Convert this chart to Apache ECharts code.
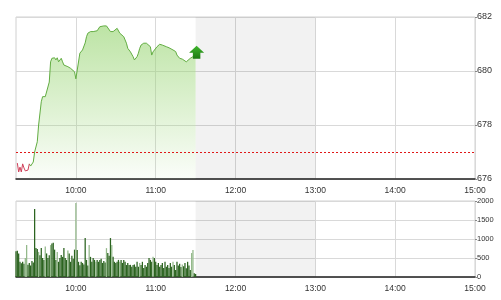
<!DOCTYPE html>
<html><head><meta charset="utf-8">
<script src="https://cdn.jsdelivr.net/npm/echarts@6/dist/echarts.min.js"></script>
<style>html,body{margin:0;padding:0;background:#fff}#c{width:501px;height:300px}</style>
</head><body><div id="c"></div>
<script>
// ---- data ----
const hourLabels = ['10:00','11:00','12:00','13:00','14:00','15:00'];
const refPrice = 677;
const lunchStart = '11:30', lunchEnd = '13:00';
const lastTime = '11:30';

const redTimes  = ['09:16','09:17','09:18','09:19','09:20','09:21','09:22','09:23','09:24','09:25'];
const redValues = [676.59,676.26,676.44,676.26,676.56,676.41,676.30,676.26,676.33,676.56];

const priceTimes = ['09:25','09:26','09:28','09:29','09:31','09:32','09:34','09:35','09:36','09:37','09:38','09:40','09:41','09:42','09:44','09:45','09:46','09:47','09:49','09:50','09:51','09:52','09:54','09:55','09:56','09:57','09:59','10:00','10:03','10:04','10:05','10:07','10:08','10:09','10:11','10:12','10:13','10:16','10:18','10:19','10:21','10:22','10:23','10:24','10:26','10:27','10:28','10:29','10:31','10:32','10:33','10:34','10:36','10:37','10:38','10:39','10:41','10:42','10:43','10:44','10:46','10:47','10:48','10:49','10:51','10:52','10:53','10:54','10:56','10:57','10:58','10:59','11:01','11:02','11:03','11:05','11:06','11:08','11:10','11:11','11:13','11:15','11:16','11:18','11:20','11:21','11:23','11:24','11:26','11:27','11:28','11:30'];
const priceValues = [676.56,676.48,676.63,677.00,677.38,678.00,678.86,679.05,679.00,679.05,679.00,679.59,680.34,680.47,680.49,680.41,680.49,680.34,680.47,680.34,680.22,680.28,680.16,680.22,680.10,680.04,679.97,679.71,680.66,680.71,680.78,681.04,681.27,681.40,681.46,681.40,681.46,681.49,681.64,681.70,681.67,681.64,681.67,681.64,681.46,681.40,681.46,681.52,681.58,681.52,681.40,681.33,681.27,681.21,681.03,680.84,680.71,680.66,680.53,680.41,680.53,680.66,680.84,680.96,681.03,680.96,681.03,681.09,680.90,680.59,680.71,680.78,680.90,680.96,680.99,680.96,680.94,680.90,680.86,680.84,680.78,680.72,680.59,680.47,680.44,680.41,680.34,680.41,680.47,680.43,680.53,680.51];

// volume per minute from 09:15
const volumeValues = [680,690,620,400,360,400,350,500,840,320,370,300,420,380,1790,760,740,660,570,760,500,450,800,620,500,570,840,880,900,720,450,660,400,500,580,530,760,500,450,700,620,400,560,480,720,1950,710,400,310,400,370,330,1025,450,300,840,530,400,500,450,400,450,400,450,480,370,420,380,760,630,560,1025,840,530,400,370,400,450,400,450,370,450,400,315,370,315,320,270,315,330,270,400,270,370,315,400,240,315,270,370,500,450,400,535,500,400,315,370,270,315,370,240,400,270,315,240,370,270,400,315,185,400,300,350,260,330,280,370,230,400,300,185,630,710,100,80];
const lightBars = [7,8,17,22,26,31,39,45,55,60,68,72,78,93,103,118,125,132,133];

// ---- categories (one per minute 09:15 .. 15:00) ----
const cats = [];
for (let m = 9*60+15; m <= 15*60; m++) {
  cats.push(String(Math.floor(m/60)).padStart(2,'0') + ':' + String(m%60).padStart(2,'0'));
}
const volData = volumeValues.map((v,i)=>({value:v, itemStyle:{color: lightBars.includes(i) ? '#94b98b' : '#2c6420'}}));

const font = 'Liberation Sans, Arial, sans-serif';
const isHour = (i,v) => hourLabels.includes(v);
function xAxis(gi){
  return {type:'category', gridIndex:gi, data:cats, boundaryGap:false,
    axisLine:{lineStyle:{color:'#222', width:1.5}}, axisTick:{show:false},
    axisLabel:{interval:isHour, fontSize:8.5, color:'#333', margin:7, fontFamily:font},
    splitLine:{show:true, interval:isHour, lineStyle:{color:'#d9d9d9', width:1}}};
}
const lunchArea = {silent:true, itemStyle:{color:'rgba(0,0,0,0.05)'}, data:[[{xAxis:lunchStart},{xAxis:lunchEnd}]]};

const chart = echarts.init(document.getElementById('c'), null, {renderer:'canvas'});
chart.setOption({
  animation:false,
  backgroundColor:'#fff',
  grid:[
    {left:16, right:26, top:17, height:162, show:true, borderColor:'#d0d0d0', borderWidth:1},
    {left:16, right:26, top:201, height:76, show:true, borderColor:'#d0d0d0', borderWidth:1}
  ],
  xAxis:[xAxis(0), xAxis(1)],
  yAxis:[
    {type:'value', gridIndex:0, position:'right', min:676, max:682, interval:2,
     axisLine:{show:false}, axisTick:{show:true, length:2, lineStyle:{color:'#888'}},
     axisLabel:{fontSize:9, color:'#333', margin:2, fontFamily:font},
     splitLine:{lineStyle:{color:'#d9d9d9'}}},
    {type:'value', gridIndex:1, position:'right', min:0, max:2000, interval:500,
     axisLine:{show:false}, axisTick:{show:true, length:2, lineStyle:{color:'#888'}},
     axisLabel:{fontSize:7.5, color:'#333', margin:2, fontFamily:font, formatter:v=>String(v)},
     splitLine:{lineStyle:{color:'#d9d9d9'}}}
  ],
  series:[
    {type:'line', xAxisIndex:0, yAxisIndex:0, data:priceTimes.map((t,i)=>[t, priceValues[i]]),
     symbol:'none', lineStyle:{color:'#62ad42', width:1}, z:3,
     areaStyle:{origin:'start', color:new echarts.graphic.LinearGradient(0,0,0,1,[
       {offset:0, color:'rgba(150,212,112,0.9)'},{offset:1, color:'rgba(150,212,112,0.06)'}])},
     markArea:lunchArea,
     markLine:{silent:true, symbol:'none', label:{show:false},
       lineStyle:{color:'#e01818', type:[2,2], width:1}, data:[{yAxis:refPrice}]},
     markPoint:{silent:true, data:[{coord:[lastTime, priceValues[priceValues.length-1]]}],
       symbol:'path://M7,0 L14,7 L10.5,7 L10.5,13 L3.5,13 L3.5,7 L0,7 Z', symbolSize:[15,13], symbolOffset:[1,-5],
       label:{show:false},
       itemStyle:{color:new echarts.graphic.LinearGradient(0,0,0,1,[{offset:0,color:'#3fb52c'},{offset:1,color:'#1d7a12'}])}}
    },
    {type:'line', xAxisIndex:0, yAxisIndex:0, data:redTimes.map((t,i)=>[t, redValues[i]]),
     symbol:'none', lineStyle:{color:'#d0405a', width:1}, z:4},
    {type:'line', xAxisIndex:1, yAxisIndex:1, data:[[lunchStart, null]], symbol:'none', silent:true, markArea:lunchArea},
    {type:'bar', xAxisIndex:1, yAxisIndex:1, data:volData, barCategoryGap:'5%', z:3}
  ]
});
</script></body></html>
